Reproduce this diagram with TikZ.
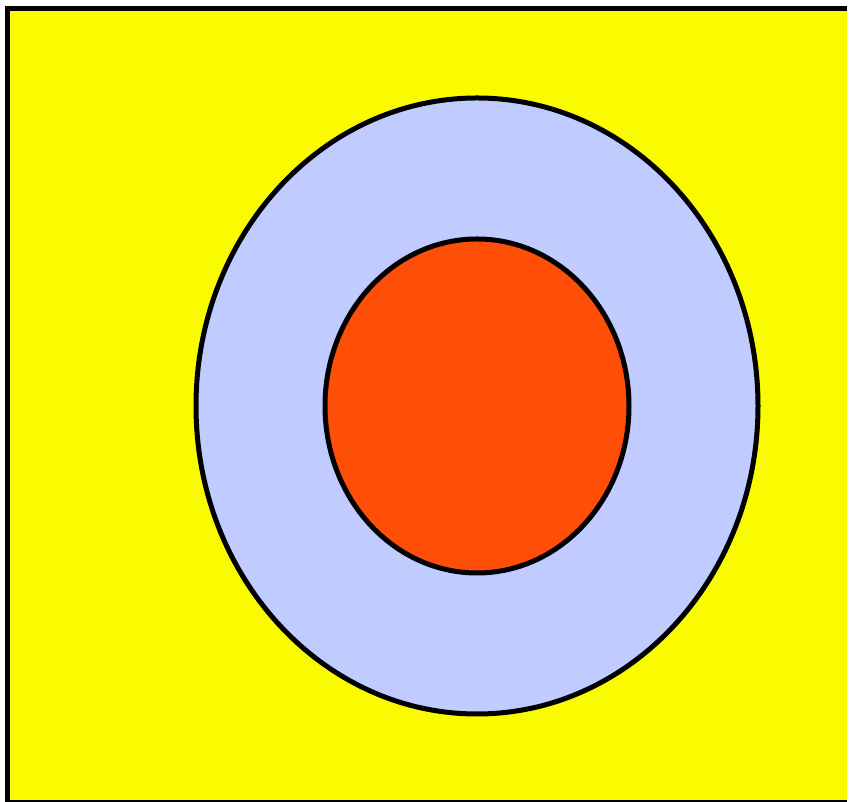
\documentclass[tikz,border=0pt]{standalone}
\usepackage{tikz}

\definecolor{fieldyellow}{RGB}{250,250,0}
\definecolor{ringblue}{RGB}{192,204,255}
\definecolor{coreorange}{RGB}{255,78,8}

\begin{document}
\begin{tikzpicture}[x=1pt, y=1pt,
    style={line width=5pt},
    outline/.style={draw=black, line width=5pt}
]
  \useasboundingbox (0,0) rectangle (855,802);
  % yellow field, cut at the right and at the bottom
  \fill[fieldyellow] (7.5,0) rectangle (847,793.5);
  \draw[black] (7.5,0) -- (7.5,793.5) -- (847,793.5);
  \draw[black, line width=2pt] (7.5,1) -- (847,1);

  % outer ring
  \filldraw[outline, fill=ringblue] (477,396) ellipse [x radius=281, y radius=308];
  % inner core
  \filldraw[outline, fill=coreorange] (477,396) ellipse [x radius=152, y radius=167];
\end{tikzpicture}
\end{document}
